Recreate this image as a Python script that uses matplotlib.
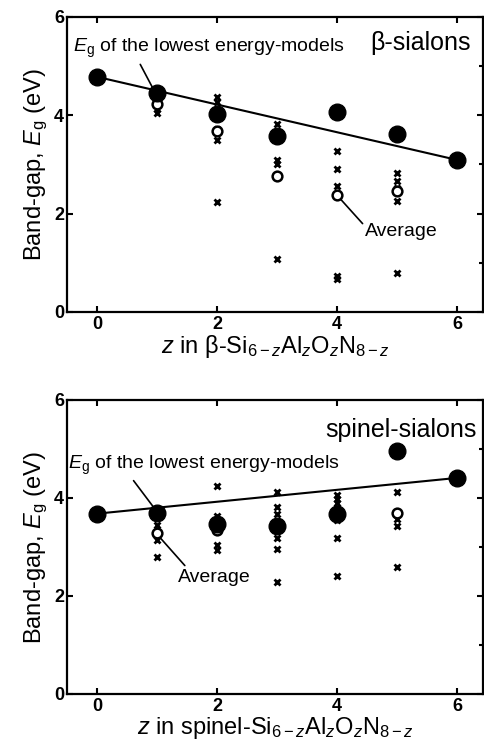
import matplotlib
matplotlib.use("Agg")
import matplotlib.pyplot as plt
from matplotlib.ticker import MultipleLocator

plt.rcParams["font.family"] = ["Liberation Sans", "DejaVu Sans"]
plt.rcParams["mathtext.fontset"] = "custom"
plt.rcParams["mathtext.rm"] = "Liberation Sans"
plt.rcParams["mathtext.it"] = "Liberation Sans:italic"
plt.rcParams["mathtext.bf"] = "Liberation Sans:bold"

# ── Data: beta-sialons ───────────────────────────────────────────────────────
beta_z = [0, 1, 2, 3, 4, 5, 6]
beta_lowest = [4.78, 4.46, 4.03, 3.57, 4.07, 3.62, 3.09]
beta_avg_z = [1, 2, 3, 4, 5]
beta_avg = [4.23, 3.68, 2.77, 2.38, 2.45]
beta_x_z = [1, 1, 2, 2, 2, 2, 2, 3, 3, 3, 3, 4, 4, 4, 4, 4, 5, 5, 5, 5, 5]
beta_x = [4.04, 4.12, 4.36, 4.26, 3.72, 3.50, 2.24, 3.82, 3.08, 3.01, 1.08,
          3.28, 2.90, 2.57, 0.73, 0.66, 2.82, 2.67, 2.52, 2.25, 0.80]

# ── Data: spinel-sialons ─────────────────────────────────────────────────────
sp_z = [0, 1, 2, 3, 4, 5, 6]
sp_lowest = [3.68, 3.69, 3.47, 3.42, 3.67, 4.96, 4.41]
sp_avg_z = [1, 2, 3, 4, 5]
sp_avg = [3.28, 3.34, 3.43, 3.66, 3.70]
sp_x_z = [1, 1, 1, 2, 2, 2, 2, 3, 3, 3, 3, 3, 3,
          4, 4, 4, 4, 4, 4, 4, 4, 5, 5, 5, 5]
sp_x = [3.44, 3.15, 2.79, 4.24, 3.64, 3.04, 2.94, 4.12, 3.81, 3.68, 3.18, 2.96, 2.28,
        4.07, 3.98, 3.90, 3.80, 3.60, 3.55, 3.18, 2.40, 4.12, 3.58, 3.42, 2.60]

fig = plt.figure(figsize=(4.85, 7.51), dpi=100)
ax1 = fig.add_axes([0.138, 0.5846, 0.858, 0.393])
ax2 = fig.add_axes([0.138, 0.0759, 0.858, 0.3915])


def draw(ax, z, low, az, avg, xz, xv):
    # line joining first and last lowest-energy points
    ax.plot([z[0], z[-1]], [low[0], low[-1]], color="black", lw=1.5, zorder=2)
    ax.plot(xz, xv, "x", color="black", ms=5, mew=2, zorder=3)
    ax.plot(az, avg, "o", mfc="white", mec="black", ms=7, mew=1.8, zorder=4)
    ax.plot(z, low, "o", color="black", ms=12, zorder=5)
    ax.set_xlim(-0.5, 6.43)
    ax.set_ylim(0, 6)
    ax.xaxis.set_major_locator(MultipleLocator(2))
    ax.yaxis.set_major_locator(MultipleLocator(2))
    ax.yaxis.set_minor_locator(MultipleLocator(1))
    ax.tick_params(which="both", direction="in", top=True, right=True,
                   width=1.5, labelsize=13)
    ax.tick_params(which="major", length=4)
    ax.tick_params(axis="y", which="major", pad=2)
    ax.tick_params(axis="x", which="major", pad=3)
    ax.tick_params(which="minor", length=3, left=False)
    for lab in ax.get_xticklabels() + ax.get_yticklabels():
        lab.set_fontweight("bold")
    for s in ax.spines.values():
        s.set_linewidth(1.6)
    ax.set_ylabel(r"Band-gap, $E_{\rm g}$ (eV)", fontsize=17, labelpad=3)


draw(ax1, beta_z, beta_lowest, beta_avg_z, beta_avg, beta_x_z, beta_x)
draw(ax2, sp_z, sp_lowest, sp_avg_z, sp_avg, sp_x_z, sp_x)

ax1.set_xlabel(r"$z$ in β-Si$_{\rm 6-\mathit{z}}$Al$_{\mathit{z}}$O$_{\mathit{z}}$N$_{\rm 8-\mathit{z}}$",
               fontsize=17, labelpad=0)
ax2.set_xlabel(r"$z$ in spinel-Si$_{\rm 6-\mathit{z}}$Al$_{\mathit{z}}$O$_{\mathit{z}}$N$_{\rm 8-\mathit{z}}$",
               fontsize=17, labelpad=0)

# annotations, top panel
ax1.text(6.22, 5.47, "β-sialons", fontsize=18, ha="right", va="center")
ax1.annotate(r"$E_{\rm g}$ of the lowest energy-models", xy=(0.93, 4.55),
             xytext=(-0.4, 5.35), fontsize=14, ha="left", va="center",
             arrowprops=dict(arrowstyle="-", color="black", lw=1.2,
                             shrinkA=1, shrinkB=0, relpos=(0.24, 0.0)))
ax1.annotate("Average", xy=(4.03, 2.33), xytext=(4.47, 1.63), fontsize=14,
             ha="left", va="center",
             arrowprops=dict(arrowstyle="-", color="black", lw=1.2,
                             shrinkA=0, shrinkB=0, relpos=(0.0, 0.8)))

# annotations, bottom panel
ax2.text(6.33, 5.39, "spinel-sialons", fontsize=18, ha="right", va="center")
ax2.annotate(r"$E_{\rm g}$ of the lowest energy-models", xy=(0.95, 3.8),
             xytext=(-0.48, 4.67), fontsize=14, ha="left", va="center",
             arrowprops=dict(arrowstyle="-", color="black", lw=1.2,
                             shrinkA=1, shrinkB=0, relpos=(0.23, 0.0)))
ax2.annotate("Average", xy=(1.03, 3.22), xytext=(1.35, 2.37), fontsize=14,
             ha="left", va="center",
             arrowprops=dict(arrowstyle="-", color="black", lw=1.2,
                             shrinkA=1, shrinkB=0, relpos=(0.14, 1.0)))

fig.savefig("out.png", dpi=100)
